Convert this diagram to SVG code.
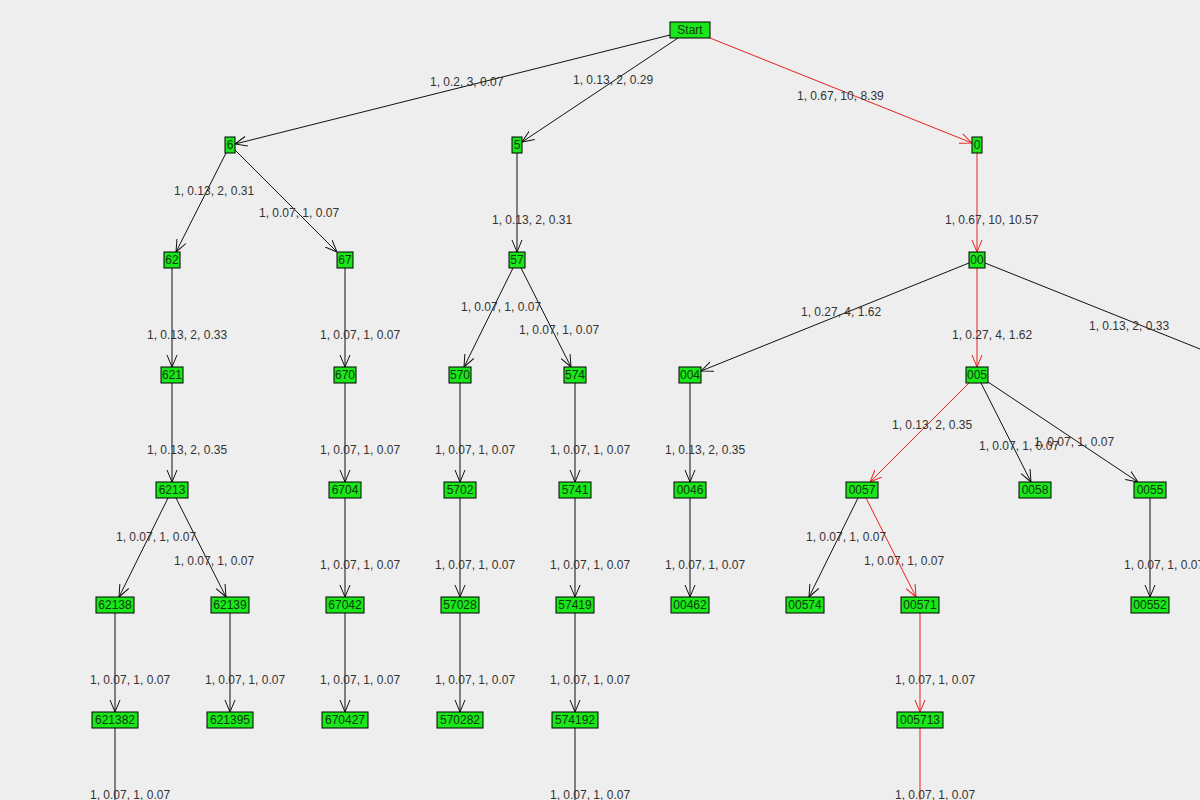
<svg xmlns="http://www.w3.org/2000/svg" width="1200" height="800" viewBox="0 0 1200 800">
<style>
.n rect{fill:#1ae61a;stroke:#000;stroke-width:1}
.n text{font-family:"Liberation Sans",Arial,sans-serif;font-size:12px;fill:#0a3a0a;text-anchor:middle}
.e line{stroke:#111;stroke-width:1;marker-end:url(#a)}
.e line.r{stroke:#e8201e;marker-end:url(#ar)}
.l{font-family:"Liberation Sans",Arial,sans-serif;font-size:12px;fill:#333}
</style>
<defs>
<marker id="a" viewBox="0 0 12 12" refX="12" refY="6" markerWidth="12" markerHeight="12" markerUnits="userSpaceOnUse" orient="auto"><path d="M0,1 L12,6 L0,11" fill="none" stroke="#111"/></marker>
<marker id="ar" viewBox="0 0 12 12" refX="12" refY="6" markerWidth="12" markerHeight="12" markerUnits="userSpaceOnUse" orient="auto"><path d="M0,1 L12,6 L0,11" fill="none" stroke="#e8201e"/></marker>
</defs>
<rect width="1200" height="800" fill="#eeeeee"/>
<g id="connectors" class="e">
<line x1="670" y1="35" x2="235" y2="144"/>
<line x1="678" y1="38" x2="522" y2="142"/>
<line class="r" x1="710" y1="38" x2="972" y2="143"/>
<line x1="226" y1="153" x2="176" y2="252"/>
<line x1="235" y1="150" x2="337" y2="252"/>
<line x1="517" y1="153" x2="517" y2="252"/>
<line class="r" x1="977" y1="153" x2="977" y2="252"/>
<line x1="172" y1="268" x2="172" y2="367"/>
<line x1="345" y1="268" x2="345" y2="367"/>
<line x1="513" y1="268" x2="464" y2="367"/>
<line x1="521" y1="268" x2="571" y2="367"/>
<line x1="969" y1="263" x2="701" y2="371"/>
<line class="r" x1="977" y1="268" x2="977" y2="367"/>
<line x1="985" y1="263" x2="1265" y2="375" style="marker-end:none"/>
<line x1="172" y1="383" x2="172" y2="482"/>
<line x1="345" y1="383" x2="345" y2="482"/>
<line x1="460" y1="383" x2="460" y2="482"/>
<line x1="575" y1="383" x2="575" y2="482"/>
<line x1="690" y1="383" x2="690" y2="482"/>
<line class="r" x1="969" y1="383" x2="870" y2="482"/>
<line x1="981" y1="383" x2="1031" y2="482"/>
<line x1="988" y1="382" x2="1138" y2="482"/>
<line x1="168" y1="498" x2="119" y2="597"/>
<line x1="176" y1="498" x2="226" y2="597"/>
<line x1="345" y1="498" x2="345" y2="597"/>
<line x1="460" y1="498" x2="460" y2="597"/>
<line x1="575" y1="498" x2="575" y2="597"/>
<line x1="690" y1="498" x2="690" y2="597"/>
<line x1="858" y1="498" x2="809" y2="597"/>
<line class="r" x1="866" y1="498" x2="916" y2="597"/>
<line x1="1150" y1="498" x2="1150" y2="597"/>
<line x1="115" y1="613" x2="115" y2="712"/>
<line x1="230" y1="613" x2="230" y2="712"/>
<line x1="345" y1="613" x2="345" y2="712"/>
<line x1="460" y1="613" x2="460" y2="712"/>
<line x1="575" y1="613" x2="575" y2="712"/>
<line class="r" x1="920" y1="613" x2="920" y2="712"/>
<line x1="115" y1="728" x2="115" y2="810" style="marker-end:none"/>
<line x1="575" y1="728" x2="575" y2="810" style="marker-end:none"/>
<line class="r" x1="920" y1="728" x2="920" y2="810" style="marker-end:none"/>
</g>
<g id="labels" class="l">
<text x="430" y="86">1, 0.2, 3, 0.07</text>
<text x="573" y="84">1, 0.13, 2, 0.29</text>
<text x="797" y="100">1, 0.67, 10, 8.39</text>
<text x="174" y="195">1, 0.13, 2, 0.31</text>
<text x="259" y="217">1, 0.07, 1, 0.07</text>
<text x="492" y="224">1, 0.13, 2, 0.31</text>
<text x="945" y="224">1, 0.67, 10, 10.57</text>
<text x="147" y="339">1, 0.13, 2, 0.33</text>
<text x="320" y="339">1, 0.07, 1, 0.07</text>
<text x="461" y="311">1, 0.07, 1, 0.07</text>
<text x="519" y="334">1, 0.07, 1, 0.07</text>
<text x="801" y="316">1, 0.27, 4, 1.62</text>
<text x="952" y="339">1, 0.27, 4, 1.62</text>
<text x="1089" y="330">1, 0.13, 2, 0.33</text>
<text x="147" y="454">1, 0.13, 2, 0.35</text>
<text x="320" y="454">1, 0.07, 1, 0.07</text>
<text x="435" y="454">1, 0.07, 1, 0.07</text>
<text x="550" y="454">1, 0.07, 1, 0.07</text>
<text x="665" y="454">1, 0.13, 2, 0.35</text>
<text x="892" y="429">1, 0.13, 2, 0.35</text>
<text x="979" y="450">1, 0.07, 1, 0.07</text>
<text x="1034" y="446">1, 0.07, 1, 0.07</text>
<text x="116" y="541">1, 0.07, 1, 0.07</text>
<text x="174" y="565">1, 0.07, 1, 0.07</text>
<text x="320" y="569">1, 0.07, 1, 0.07</text>
<text x="435" y="569">1, 0.07, 1, 0.07</text>
<text x="550" y="569">1, 0.07, 1, 0.07</text>
<text x="665" y="569">1, 0.07, 1, 0.07</text>
<text x="806" y="541">1, 0.07, 1, 0.07</text>
<text x="864" y="565">1, 0.07, 1, 0.07</text>
<text x="1124" y="569">1, 0.07, 1, 0.07</text>
<text x="90" y="684">1, 0.07, 1, 0.07</text>
<text x="205" y="684">1, 0.07, 1, 0.07</text>
<text x="320" y="684">1, 0.07, 1, 0.07</text>
<text x="435" y="684">1, 0.07, 1, 0.07</text>
<text x="550" y="684">1, 0.07, 1, 0.07</text>
<text x="895" y="684">1, 0.07, 1, 0.07</text>
<text x="90" y="799">1, 0.07, 1, 0.07</text>
<text x="550" y="799">1, 0.07, 1, 0.07</text>
<text x="895" y="799">1, 0.07, 1, 0.07</text>
</g>
<g id="n-start" class="n"><rect x="670" y="22" width="40" height="16"/><text x="690" y="34">Start</text></g>
<g id="n-6" class="n"><rect x="225" y="137" width="10" height="16"/><text x="230" y="149">6</text></g>
<g id="n-5" class="n"><rect x="512" y="137" width="10" height="16"/><text x="517" y="149">5</text></g>
<g id="n-0" class="n"><rect x="972" y="137" width="10" height="16"/><text x="977" y="149">0</text></g>
<g id="n-62" class="n"><rect x="164" y="252" width="16" height="16"/><text x="172" y="264">62</text></g>
<g id="n-67" class="n"><rect x="337" y="252" width="16" height="16"/><text x="345" y="264">67</text></g>
<g id="n-57" class="n"><rect x="509" y="252" width="16" height="16"/><text x="517" y="264">57</text></g>
<g id="n-00" class="n"><rect x="969" y="252" width="16" height="16"/><text x="977" y="264">00</text></g>
<g id="n-621" class="n"><rect x="161" y="367" width="22" height="16"/><text x="172" y="379">621</text></g>
<g id="n-670" class="n"><rect x="334" y="367" width="22" height="16"/><text x="345" y="379">670</text></g>
<g id="n-570" class="n"><rect x="449" y="367" width="22" height="16"/><text x="460" y="379">570</text></g>
<g id="n-574" class="n"><rect x="564" y="367" width="22" height="16"/><text x="575" y="379">574</text></g>
<g id="n-004" class="n"><rect x="679" y="367" width="22" height="16"/><text x="690" y="379">004</text></g>
<g id="n-005" class="n"><rect x="966" y="367" width="22" height="16"/><text x="977" y="379">005</text></g>
<g id="n-6213" class="n"><rect x="156" y="482" width="32" height="16"/><text x="172" y="494">6213</text></g>
<g id="n-6704" class="n"><rect x="329" y="482" width="32" height="16"/><text x="345" y="494">6704</text></g>
<g id="n-5702" class="n"><rect x="444" y="482" width="32" height="16"/><text x="460" y="494">5702</text></g>
<g id="n-5741" class="n"><rect x="559" y="482" width="32" height="16"/><text x="575" y="494">5741</text></g>
<g id="n-0046" class="n"><rect x="674" y="482" width="32" height="16"/><text x="690" y="494">0046</text></g>
<g id="n-0057" class="n"><rect x="846" y="482" width="32" height="16"/><text x="862" y="494">0057</text></g>
<g id="n-0058" class="n"><rect x="1019" y="482" width="32" height="16"/><text x="1035" y="494">0058</text></g>
<g id="n-0055" class="n"><rect x="1134" y="482" width="32" height="16"/><text x="1150" y="494">0055</text></g>
<g id="n-62138" class="n"><rect x="96" y="597" width="38" height="16"/><text x="115" y="609">62138</text></g>
<g id="n-62139" class="n"><rect x="211" y="597" width="38" height="16"/><text x="230" y="609">62139</text></g>
<g id="n-67042" class="n"><rect x="326" y="597" width="38" height="16"/><text x="345" y="609">67042</text></g>
<g id="n-57028" class="n"><rect x="441" y="597" width="38" height="16"/><text x="460" y="609">57028</text></g>
<g id="n-57419" class="n"><rect x="556" y="597" width="38" height="16"/><text x="575" y="609">57419</text></g>
<g id="n-00462" class="n"><rect x="671" y="597" width="38" height="16"/><text x="690" y="609">00462</text></g>
<g id="n-00574" class="n"><rect x="786" y="597" width="38" height="16"/><text x="805" y="609">00574</text></g>
<g id="n-00571" class="n"><rect x="901" y="597" width="38" height="16"/><text x="920" y="609">00571</text></g>
<g id="n-00552" class="n"><rect x="1131" y="597" width="38" height="16"/><text x="1150" y="609">00552</text></g>
<g id="n-621382" class="n"><rect x="92" y="712" width="46" height="16"/><text x="115" y="724">621382</text></g>
<g id="n-621395" class="n"><rect x="207" y="712" width="46" height="16"/><text x="230" y="724">621395</text></g>
<g id="n-670427" class="n"><rect x="322" y="712" width="46" height="16"/><text x="345" y="724">670427</text></g>
<g id="n-570282" class="n"><rect x="437" y="712" width="46" height="16"/><text x="460" y="724">570282</text></g>
<g id="n-574192" class="n"><rect x="552" y="712" width="46" height="16"/><text x="575" y="724">574192</text></g>
<g id="n-005713" class="n"><rect x="897" y="712" width="46" height="16"/><text x="920" y="724">005713</text></g>
</svg>
